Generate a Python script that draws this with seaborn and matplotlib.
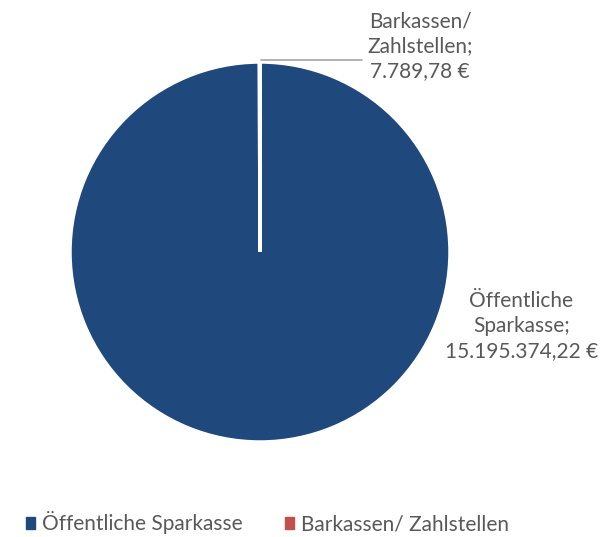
import matplotlib
matplotlib.use("Agg")
import matplotlib.pyplot as plt
import seaborn as sns

# Daten
kategorien = ["Öffentliche Sparkasse", "Barkassen/ Zahlstellen"]
werte = [15195374.22, 7789.78]
beschriftungen = ["Öffentliche\nSparkasse;\n15.195.374,22 €", "Barkassen/\nZahlstellen;\n7.789,78 €"]
farben = ["#1F497D", "#C0504D"]

sns.set_theme(style="white")
plt.rcParams["font.family"] = ["Lato", "DejaVu Sans"]
textfarbe = "#595959"

fig = plt.figure(figsize=(6.08, 5.37), dpi=100)
ax = fig.add_axes([70 / 608, 95 / 537, 380 / 608, 380 / 537])

wedges, _ = ax.pie(werte, colors=farben, startangle=90, counterclock=False,
                   wedgeprops={"edgecolor": "white", "linewidth": 2.5})
ax.set_xlim(-1, 1)
ax.set_ylim(-1, 1)
ax.set_aspect("equal")

# Datenbeschriftungen
ax.text(1.375, -0.39, beschriftungen[0], ha="center", va="center",
        fontsize=15, color=textfarbe, linespacing=1.3)
ax.text(0.842, 1.084, beschriftungen[1], ha="center", va="center",
        fontsize=15, color=textfarbe, linespacing=1.3, clip_on=False)
ax.plot([0.005, 0.535], [1.01, 1.01], color="#A6A6A6", lw=1.2, clip_on=False)

# Legende
handles = [plt.Rectangle((0, 0), 1, 1, color=c) for c in farben]
fig.legend(handles, kategorien, loc="center", bbox_to_anchor=(0.44, 1 - 523 / 537),
           ncol=2, frameon=False, fontsize=15, handlelength=0.45, handleheight=0.45,
           handletextpad=0.35, columnspacing=2.0, labelcolor=textfarbe)

fig.savefig("out.png", dpi=100)
